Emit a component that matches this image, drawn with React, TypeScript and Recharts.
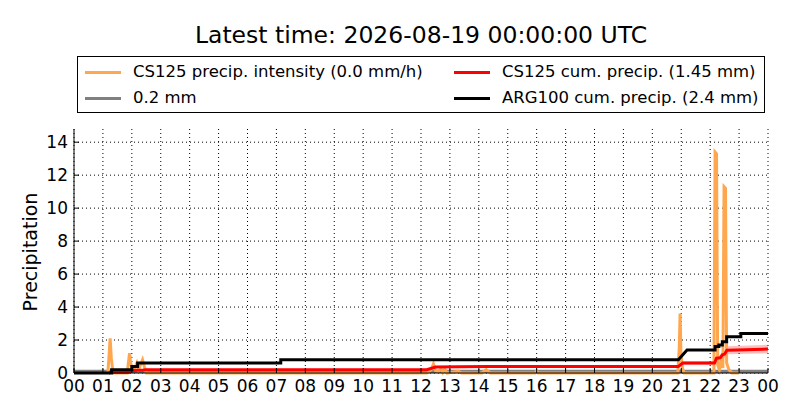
import React from "react";
import {
  ComposedChart,
  Line,
  Area,
  XAxis,
  YAxis,
  CartesianGrid,
} from "recharts";

// hours of the day (0..24) and mm/h or mm
const intensityTimes = [
  1.17, 1.21, 1.25, 1.29, 1.33, 1.38, 1.84, 1.88, 1.92, 1.96, 2.02, 2.1, 2.17, 2.23, 2.3, 2.37,
  2.43, 2.5, 12.2, 12.35, 12.43, 12.5, 12.6, 12.7, 12.75, 12.82, 12.9, 13.3, 13.4, 14.1,
  14.25, 14.4, 15.95, 16.0, 16.05, 20.88, 20.93, 20.96, 20.99, 21.04, 21.1, 22.13, 22.17,
  22.22, 22.26, 22.32, 22.38, 22.44, 22.48, 22.53, 22.57, 22.65, 22.75, 23.0,
];
const intensityValues = [
  0, 1.0, 2.1, 0.9, 0.3, 0, 0, 0.6, 1.2, 0.6, 0.2, 0.3, 0.6, 0.2, 0.5, 0.8,
  0.4, 0, 0, 0.2, 0.55, 0.15, 0.1, 0.25, 0.05, 0.25, 0, 0.1, 0, 0,
  0.2, 0, 0, 0.12, 0, 0, 1.5, 3.6, 1.2, 0.3, 0, 0, 13.4,
  13.3, 0.5, 0.2, 0.8, 0.3, 11.3, 11.2, 0.6, 0.2, 0, 0,
];

const cs125Times = [
  1.2, 1.3, 1.9, 2.0, 2.4, 2.5, 12.2, 12.5, 14.3, 20.9, 21.05, 22.15, 22.22, 22.35, 22.42,
  22.5, 22.58, 24,
];
const cs125Cum = [
  0, 0.05, 0.05, 0.15, 0.18, 0.2, 0.2, 0.36, 0.4, 0.4, 0.6, 0.6, 0.9, 0.92, 1.1,
  1.15, 1.38, 1.45,
];

const argTimes = [
  0, 1.3, 1.3, 2.0, 2.0, 2.2, 2.2, 7.15, 7.15, 20.9, 21.0, 21.1, 21.2, 22.17, 22.17, 22.3,
  22.3, 22.42, 22.42, 22.57, 22.57, 23.06, 23.06, 24,
];
const argCum = [
  0, 0, 0.2, 0.2, 0.4, 0.4, 0.6, 0.6, 0.8, 0.8, 1.0, 1.2, 1.4, 1.4, 1.6, 1.6,
  1.7, 1.7, 1.9, 1.9, 2.2, 2.2, 2.4, 2.4,
];

const resolutionTimes = [0, 24];
const resolutionValues = [0.2, 0.2];

const xTicks = [0, 1, 2, 3, 4, 5, 6, 7, 8, 9, 10, 11, 12, 13, 14, 15, 16, 17, 18, 19, 20, 21, 22, 23, 24];
const yTicks = [0, 2, 4, 6, 8, 10, 12, 14];

const intensityData = intensityTimes.map((t, i) => ({ t, v: intensityValues[i] }));
const cs125Data = cs125Times.map((t, i) => ({
  t,
  v: cs125Cum[i],
  band: [cs125Cum[i] * 0.82, cs125Cum[i] * 1.18],
}));
const argData = argTimes.map((t, i) => ({ t, v: argCum[i] }));
const resolutionData = resolutionTimes.map((t, i) => ({ t, v: resolutionValues[i] }));

const FONT = "'DejaVu Sans', sans-serif";

const legendItems = [
  { label: "CS125 precip. intensity (0.0 mm/h)", color: "#ffa74f", x: 7, y: 15 },
  { label: "CS125 cum. precip. (1.45 mm)", color: "#ff0000", x: 376, y: 15 },
  { label: "0.2 mm", color: "#808080", x: 7, y: 41 },
  { label: "ARG100 cum. precip. (2.4 mm)", color: "#000000", x: 376, y: 41 },
];

const hourLabel = (v: number) => String(v % 24).padStart(2, "0");

export default function App() {
  return (
    <div
      style={{
        position: "absolute",
        left: 0,
        top: 0,
        width: 800,
        height: 420,
        background: "#fff",
        fontFamily: FONT,
        color: "#000",
      }}
    >
      <div
        style={{
          position: "absolute",
          left: 74,
          width: 694,
          top: 24,
          textAlign: "center",
          fontSize: 23.5,
          lineHeight: 1,
        }}
      >
        Latest time: 2026-08-19 00:00:00 UTC
      </div>

      <div
        style={{
          position: "absolute",
          left: 77,
          top: 56,
          width: 688,
          height: 57,
          boxSizing: "border-box",
          border: "1px solid #000",
        }}
      >
        {legendItems.map((it) => (
          <React.Fragment key={it.label}>
            <div
              style={{
                position: "absolute",
                left: it.x,
                top: it.y - 1.5,
                width: 36,
                height: 3,
                background: it.color,
              }}
            />
            <div
              style={{
                position: "absolute",
                left: it.x + 48,
                top: it.y - 8,
                fontSize: 16.5,
                lineHeight: 1,
                whiteSpace: "nowrap",
              }}
            >
              {it.label}
            </div>
          </React.Fragment>
        ))}
      </div>

      <div
        style={{
          position: "absolute",
          left: 30,
          top: 252,
          transform: "translate(-50%, -50%) rotate(-90deg)",
          fontSize: 19,
          lineHeight: 1,
          whiteSpace: "nowrap",
        }}
      >
        Precipitation
      </div>

      <div style={{ position: "absolute", left: 0, top: 0 }}>
        <ComposedChart
          width={800}
          height={420}
          margin={{ top: 129, right: 32, bottom: 17, left: 0 }}
        >
          <CartesianGrid
            stroke="#000"
            strokeDasharray="1 3"
            strokeWidth={1}
            horizontalValues={yTicks}
            verticalValues={xTicks}
          />
          <XAxis
            dataKey="t"
            type="number"
            domain={[0, 24]}
            ticks={xTicks}
            tickFormatter={hourLabel}
            interval={0}
            height={30}
            tickSize={-5}
            tickMargin={12}
            axisLine={{ stroke: "#000" }}
            tickLine={{ stroke: "#000" }}
            tick={{ fill: "#000", fontSize: 17, fontFamily: FONT }}
          />
          <XAxis
            xAxisId="top"
            orientation="top"
            dataKey="t"
            type="number"
            domain={[0, 24]}
            ticks={xTicks}
            height={0}
            tickSize={-5}
            tick={false}
            axisLine={{ stroke: "#000" }}
            tickLine={{ stroke: "#000" }}
          />
          <YAxis
            type="number"
            domain={[0, 14.8]}
            ticks={yTicks}
            interval={0}
            width={74}
            tickSize={-5}
            tickMargin={11}
            axisLine={{ stroke: "#000" }}
            tickLine={{ stroke: "#000" }}
            tick={{ fill: "#000", fontSize: 17, fontFamily: FONT }}
          />
          <YAxis
            yAxisId="right"
            orientation="right"
            type="number"
            domain={[0, 14.8]}
            ticks={yTicks}
            width={0}
            tickSize={-5}
            tick={false}
            axisLine={{ stroke: "#000" }}
            tickLine={{ stroke: "#000" }}
          />
          <Area
            data={resolutionData}
            dataKey="v"
            type="linear"
            stroke="none"
            fill="#808080"
            fillOpacity={1}
            isAnimationActive={false}
          />
          <Line
            data={intensityData}
            dataKey="v"
            type="linear"
            stroke="#ffa74f"
            strokeWidth={3}
            dot={false}
            isAnimationActive={false}
          />
          <Area
            data={cs125Data}
            dataKey="band"
            type="linear"
            stroke="none"
            fill="#ff0000"
            fillOpacity={0.25}
            isAnimationActive={false}
          />
          <Line
            data={cs125Data}
            dataKey="v"
            type="linear"
            stroke="#ff0000"
            strokeWidth={3}
            dot={false}
            isAnimationActive={false}
          />
          <Line
            data={argData}
            dataKey="v"
            type="linear"
            stroke="#000"
            strokeWidth={3}
            dot={false}
            isAnimationActive={false}
          />
        </ComposedChart>
      </div>
    </div>
  );
}
